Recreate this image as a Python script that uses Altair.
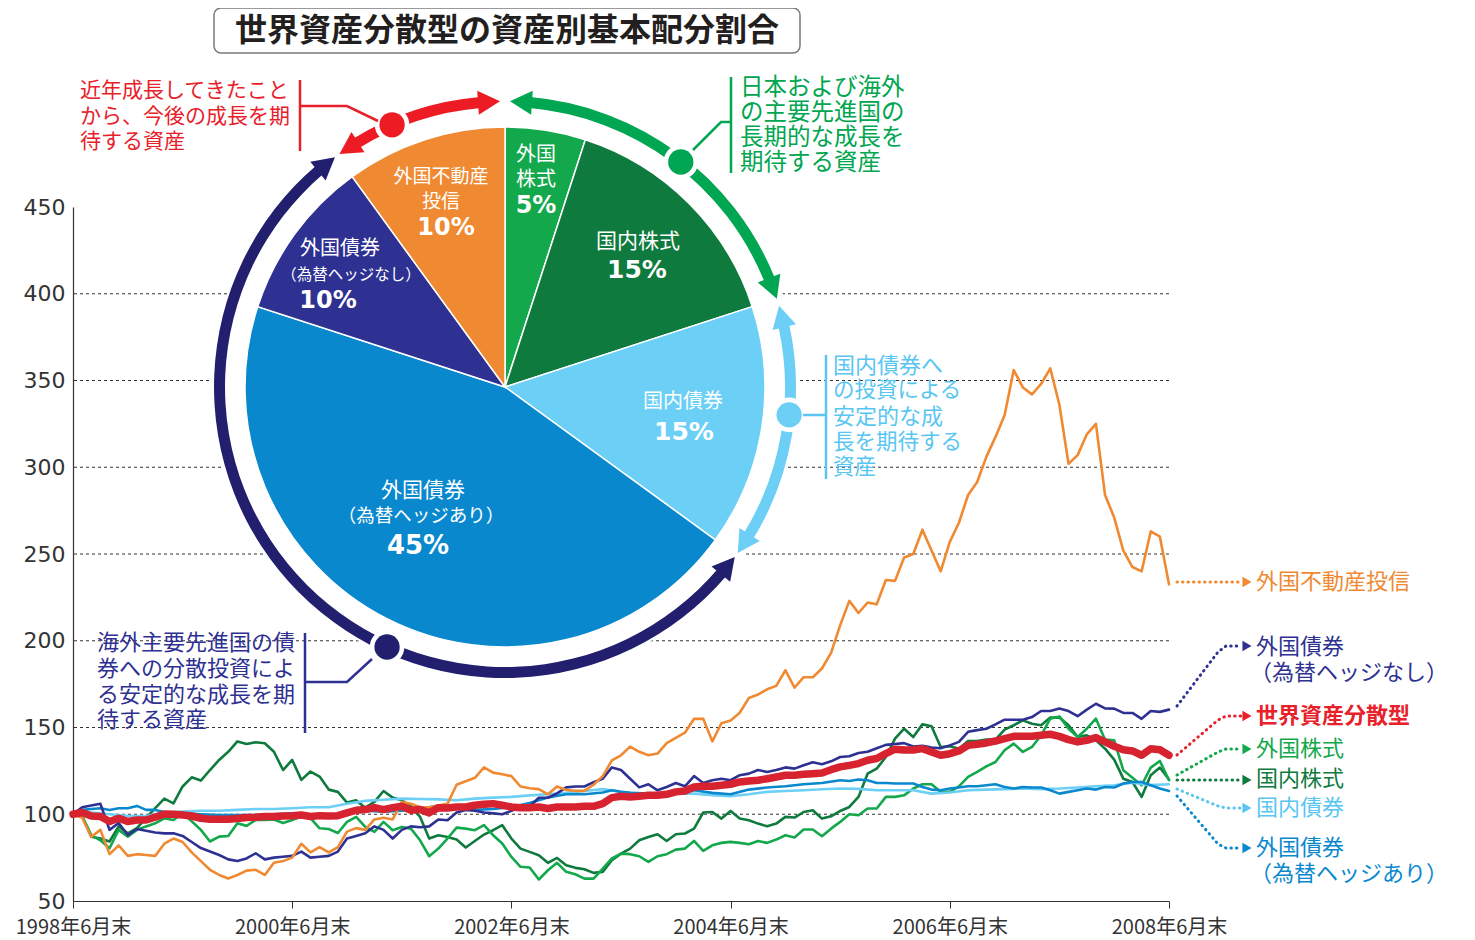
import math
import altair as alt
import pandas as pd

# ---------------- data ----------------
tick_months = [0, 24, 48, 72, 96, 120]
tick_labels = ["1998年6月末", "2000年6月末", "2002年6月末", "2004年6月末", "2006年6月末", "2008年6月末"]
y_ticks = [50, 100, 150, 200, 250, 300, 350, 400, 450]
grid_values = [100, 150, 200, 250, 300, 350, 400]

series_names = ["外国株式", "国内株式", "国内債券", "外国債券（為替ヘッジあり）",
                "外国債券（為替ヘッジなし）", "外国不動産投信", "世界資産分散型"]
series_colors = ["#12A84B", "#0F7A3D", "#6CCFF6", "#0A88CE", "#2E3192", "#F08A32", "#D6232F"]

months_full = list(range(121))

v_reit = [100, 98, 87, 91, 77, 82, 76, 77, 76.5, 76,
          83, 86, 84, 78, 73, 68, 65, 63, 65, 67.5,
          68, 65, 72, 73, 75, 83, 78, 81, 78, 81,
          90, 92, 91, 97, 98, 97, 107, 106, 104, 104,
          105, 106, 117, 119, 121, 127, 124, 123, 122, 116,
          115, 114.5, 111.5, 116, 114, 113.5, 113.5, 117, 122, 131,
          134, 139, 136, 134, 135, 141, 144, 147, 155, 155,
          142, 152.5, 154, 158.5, 167, 169, 172, 174, 183, 173,
          179, 179, 184, 193, 209, 223, 216, 222, 221, 235,
          234.5, 248, 250, 264, 252, 240, 257, 268, 284, 291.5,
          306, 317.5, 330, 356, 346, 342, 348, 357, 336, 302,
          307, 319, 325, 284, 271, 252, 242.5, 240, 263, 260,
          232.5]

v_fbond_unhedged = [100, 104, 105, 106, 91, 95, 88, 91.5, 90.5, 89.5,
                    89, 89, 87.5, 84, 80.5, 78.5, 76.5, 74, 73, 74.5,
                    77.5, 74, 75, 75.5, 76, 78.5, 75, 75.5, 76, 78.5,
                    86, 87.5, 89, 93, 91, 86, 91, 93, 92.5, 93,
                    97, 96.5, 101, 102.5, 102, 101, 100.5, 100, 102, 104,
                    104.5, 109.5, 109.5, 112, 115.5, 116, 116, 118.5, 120.5, 127,
                    125.5, 120.5, 115.5, 117.3, 113.8, 115.7, 118, 116.1, 122, 118,
                    119.6, 120.5, 119.6, 122.5, 123.4, 125.5, 124.4, 125.5, 127, 126.3,
                    128.2, 130, 128.8, 130.5, 133, 133.4, 135.3, 136, 138, 140,
                    140.5, 141, 139, 139.5, 138.4, 138, 139.7, 141.7, 147.5, 148.5,
                    149.3, 151.8, 154.5, 154.5, 154.5, 156, 159.5, 159.5, 161, 159.5,
                    156.5, 160.3, 163.7, 161, 160.9, 158.4, 158.4, 155, 159.5, 159,
                    160.3]

v_world = [100, 101, 99, 98.7, 95.8, 97.7, 95.8, 96.7, 96.7, 98.3,
           100.2, 100, 99.6, 99, 97.7, 97.1, 97.1, 97.1, 97.5, 98.1,
           98.3, 98.7, 98.7, 99, 99.2, 99.6, 98.7, 99.2, 99, 99.2,
           100.8, 102.3, 102.7, 103.8, 102.7, 103.8, 104.6, 102.3, 102.7, 100.8,
           103.8, 103.6, 104.2, 104.2, 105.2, 105.8, 106.1, 105.2, 104.2, 103.8,
           103.8, 104.2, 103.3, 104.2, 104.2, 104.2, 104.6, 104.6, 106.1, 109.6,
           110.4, 110, 110.4, 110.9, 110.9, 111.5, 112.9, 113.4, 115.7, 116.1,
           116.1, 116.7, 117.3, 118.6, 119.2, 119.6, 120.5, 121.5, 122.5, 122.5,
           123, 123.4, 123.8, 125.7, 127.3, 128.2, 129.2, 131.1, 132.1, 135,
           137.5, 137, 137, 137.8, 135.9, 134, 134.9, 136.5, 139.7, 140.3,
           141.1, 142.2, 143.6, 144.9, 144.9, 144.9, 145.5, 146.1, 144.9, 143,
           141.7, 142.6, 144.2, 141.7, 139.2, 137.2, 136.5, 134, 137.8, 137.2,
           134]

v_jstock = [100, 99, 87, 86, 84.3, 93, 89, 92, 97.7, 103.5,
            109, 106.3, 116, 121.3, 119.4, 125.5, 131.3, 136, 142, 140.5,
            141.5, 140.9, 136, 125.5, 131.3, 119.8, 124.6, 121.7, 114.2, 112.9,
            106.7, 108, 103.8, 107.1, 113.4, 109.6, 108, 104.6, 98.5, 86,
            87.9, 86.9, 85.4, 80.8, 84.6, 88.3, 90.8, 93.7, 86, 80.2,
            78.3, 76.4, 72, 74.8, 70.6, 69.1, 68.3, 66.2, 66.8, 73.5,
            77.3, 80.2, 85, 86.9, 88.5, 84.6, 88.5, 88.9, 91.7, 101,
            101.3, 97.5, 101.9, 97.5, 96.5, 94.6, 93.1, 94.6, 98.5, 98.1,
            101.3, 102.3, 97.5, 98.8, 101.9, 104.2, 110, 123.4, 126.3, 133,
            143.6, 149.3, 144.5, 151.8, 150.7, 138.8, 139.2, 137.8, 142.2, 142.2,
            143, 143, 148.8, 151.3, 154.1, 152.2, 151.3, 155.7, 155.7, 151.3,
            144.5, 145.5, 142.6, 137.8, 131.5, 120.5, 118.6, 110, 122.5, 126.9,
            120]

v_fstock = [100, 99, 88, 85, 80.4, 91, 87.1, 91, 93, 94.8,
            97.7, 96.7, 100.6, 96, 91, 84.3, 87.1, 87.5, 94.8, 93.3,
            96.7, 96.7, 97, 95, 96.7, 98.7, 97.7, 91.9, 91.5, 89.2,
            95.6, 98.5, 92.7, 89.8, 95.6, 90.8, 92.7, 91.7, 85, 75.8,
            80.2, 86, 92.3, 91.7, 90.8, 93.7, 87.9, 83.1, 75.4, 69.7,
            69.3, 62.4, 67.7, 72, 66.8, 65.4, 62.9, 62.9, 68.7, 74.5,
            77.3, 77, 75.8, 72.5, 75.8, 77, 79.6, 80.2, 84.6, 78.9,
            82.1, 83.5, 84.1, 83.5, 82.7, 84.6, 83.5, 85.4, 87.9, 86.6,
            91.2, 91.2, 87.3, 91.7, 95.6, 100, 99.4, 103.3, 103.3, 110,
            110, 110.9, 114.8, 117.3, 117.3, 112.9, 112.9, 116.1, 121.5, 124.4,
            127.6, 130.1, 136.9, 140.7, 135.9, 138.8, 145.5, 155.1, 156.4, 149.3,
            144.5, 149.3, 155.1, 143, 142.6, 125.3, 121.1, 116.7, 126.9, 130.7,
            119.6]

m_jbond = list(range(0, 121, 2))
v_jbond = [100, 101, 100, 99, 99, 101, 101.5, 102, 102, 102.5,
           103, 103, 103.5, 104, 104, 106, 107.7, 108.4, 109, 108.8,
           108.6, 108.1, 109, 109.6, 110, 110.9, 111.5, 112.3, 113.4, 114.5,
           113, 111.9, 111.9, 112, 111.9, 111, 110.4, 111.5, 112.9, 113.4,
           113.8, 114.4, 114.8, 114.6, 113.8, 113.8, 113.8, 111.9, 112.5, 113.8,
           114.2, 114.5, 114.8, 114.5, 114.8, 115.4, 116.1, 116.7, 118.2, 116.8,
           117.3]

m_fbond_hedged = [0, 1, 2, 3, 4, 5, 6, 7, 8, 9, 10, 12, 14, 16, 18, 20, 22, 24, 26, 28,
                  30, 32, 34, 36, 38, 40, 42, 44, 46, 48, 50, 52, 54, 56, 58, 59, 60, 61, 63, 65,
                  68, 70, 72, 74, 76, 78, 80, 82, 84, 85, 86, 87, 88, 89, 90, 91, 92, 93, 94, 95,
                  96, 97, 98, 99, 100, 101, 102, 103, 104, 105, 106, 107, 108, 109, 110, 111, 112,
                  113, 114, 115, 116, 117, 118, 119, 120]
v_fbond_hedged = [100, 102.5, 103, 103.5, 102.5, 103.5, 103.5, 104.8, 102.5, 102.5, 101.3, 100.5,
                  100, 99.5, 99.5, 99.5, 100, 100.5, 100, 99,
                  100.5, 102, 101.5, 102, 103, 105, 103.5, 102.5, 103, 104.2, 106.5, 109.6, 111.5,
                  111.5, 112.5, 113.8, 112.9, 112.3, 111.9, 111.9,
                  113.8, 112.3, 111.5, 114.2, 115.4, 116.1, 117.3, 118, 119.6, 119.2, 120, 119.6,
                  118, 118, 117.7, 117.7, 117.7, 115.7, 114.2, 113.8,
                  114.8, 115.4, 116.1, 116.1, 116.7, 117.3, 115.7, 114.8, 115.7, 115.4, 115.4,
                  113.8, 111.9, 112.9, 113.8, 114.8, 114.2,
                  115.7, 115.4, 117.7, 118.6, 118.6, 116.7, 114.8, 113.4]

# draw order (bottom -> top)
series_data = [
    ("国内株式", months_full, v_jstock),
    ("外国株式", months_full, v_fstock),
    ("国内債券", m_jbond, v_jbond),
    ("外国債券（為替ヘッジあり）", m_fbond_hedged, v_fbond_hedged),
    ("外国債券（為替ヘッジなし）", months_full, v_fbond_unhedged),
    ("外国不動産投信", months_full, v_reit),
    ("世界資産分散型", months_full, v_world),
]

pie_names = ["外国株式", "国内株式", "国内債券", "外国債券（為替ヘッジあり）",
             "外国債券（為替ヘッジなし）", "外国不動産投信"]
pie_pct = [5, 15, 15, 45, 10, 10]

# ---------------- layout ----------------
OX, OY = 73, 207            # page position of plot origin
W, H = 1096, 694
CX, CY = 505 - OX, 387 - OY  # pie centre in plot coords
FONT = "Noto Sans CJK JP"

def P(x, y):
    return x - OX, y - OY

xscale = alt.Scale(domain=[0, 120], nice=False, zero=False)
yscale = alt.Scale(domain=[50, 450], nice=False, zero=False)
cscale = alt.Scale(domain=series_names, range=series_colors)

label_expr = "[" + ",".join("'%s'" % t for t in tick_labels) + "][round(datum.value/24)]"
xaxis = alt.Axis(values=tick_months, labelExpr=label_expr, title=None, grid=False,
                 tickSize=7, tickColor="#333", domainColor="#333", domainWidth=1.2,
                 labelFont=FONT, labelFontSize=20, labelColor="#333", labelPadding=9,
                 labelFlush=False, labelOverlap=False)
yaxis = alt.Axis(values=y_ticks, title=None, grid=False, ticks=False, domainColor="#333",
                 domainWidth=1.2, labelFont="DejaVu Sans", labelFontSize=22,
                 labelColor="#333", labelPadding=8)

layers = []

# grid lines
layers.append(
    alt.Chart(pd.DataFrame({"g": grid_values})).mark_rule(
        color="#333", strokeDash=[3, 3], strokeWidth=1
    ).encode(y=alt.Y("g:Q", scale=yscale, axis=yaxis))
)

# data lines
for name, ms, vs in series_data:
    df = pd.DataFrame({"m": ms, "v": vs, "s": name})
    width = 7.5 if name == "世界資産分散型" else 2.6
    layers.append(
        alt.Chart(df).mark_line(strokeWidth=width, strokeJoin="round", strokeCap="round").encode(
            x=alt.X("m:Q", scale=xscale, axis=xaxis),
            y=alt.Y("v:Q", scale=yscale, axis=yaxis),
            color=alt.Color("s:N", scale=cscale, legend=None),
        )
    )

# white disc behind pie and ring
layers.append(
    alt.Chart(pd.DataFrame({"t0": [0.0], "t1": [2 * math.pi]})).mark_arc(
        x=CX, y=CY, radius=293, fill="white"
    ).encode(theta=alt.Theta("t0:Q", scale=None), theta2=alt.Theta2("t1:Q"))
)

# pie
pie_df = pd.DataFrame({"name": pie_names, "pct": pie_pct, "idx": list(range(len(pie_names)))})
layers.append(
    alt.Chart(pie_df).mark_arc(x=CX, y=CY, radius=260, stroke="white", strokeWidth=1.5).encode(
        theta=alt.Theta("pct:Q", stack=True, scale=alt.Scale(domain=[0, 100], range=[0, 2 * math.pi])),
        order=alt.Order("idx:Q"),
        color=alt.Color("name:N", scale=cscale, legend=None),
    )
)

# ring arcs with arrowheads
R_OUT, R_IN = 291, 280
R_MID = (R_OUT + R_IN) / 2
ring = [("#ED1C24", 324.6, 359.0), ("#00A651", 1.0, 72.0),
        ("#6DCFF6", 73.5, 125.5), ("#221F6E", 126.5, 323.5)]
arc_rows, arrow_rows = [], []
for col, a0, a1 in ring:
    arc_rows.append({"t0": math.radians(a0 + 4.0), "t1": math.radians(a1 - 4.0), "col": col})
    for a, rot in ((a0 + 2.85, a0 + 2.85 - 90), (a1 - 2.85, a1 - 2.85 + 90)):
        arrow_rows.append({"px": CX + R_MID * math.sin(math.radians(a)),
                           "py": CY - R_MID * math.cos(math.radians(a)),
                           "rot": rot % 360, "col": col})
layers.append(
    alt.Chart(pd.DataFrame(arc_rows)).mark_arc(x=CX, y=CY, radius=R_OUT, radius2=R_IN).encode(
        theta=alt.Theta("t0:Q", scale=None), theta2=alt.Theta2("t1:Q"),
        color=alt.Color("col:N", scale=None),
    )
)
layers.append(
    alt.Chart(pd.DataFrame(arrow_rows)).mark_point(
        shape="M0,-1L0.85,0.55L-0.85,0.55Z", filled=True, size=806, opacity=1, strokeWidth=0
    ).encode(
        x=alt.X("px:Q", scale=None, axis=None), y=alt.Y("py:Q", scale=None, axis=None),
        angle=alt.Angle("rot:Q", scale=None), color=alt.Color("col:N", scale=None),
    )
)

# ring dots
dots = [("#ED1C24", 336.7), ("#00A651", 38.0), ("#6DCFF6", 95.6), ("#221F6E", 204.4)]
dot_df = pd.DataFrame({
    "px": [CX + R_MID * math.sin(math.radians(a)) for _, a in dots],
    "py": [CY - R_MID * math.cos(math.radians(a)) for _, a in dots],
    "col": [c for c, _ in dots],
})
layers.append(
    alt.Chart(dot_df).mark_point(shape="circle", filled=True, size=1200, opacity=1, color="white").encode(
        x=alt.X("px:Q", scale=None, axis=None), y=alt.Y("py:Q", scale=None, axis=None))
)
layers.append(
    alt.Chart(dot_df).mark_point(shape="circle", filled=True, size=640, opacity=1).encode(
        x=alt.X("px:Q", scale=None, axis=None), y=alt.Y("py:Q", scale=None, axis=None),
        color=alt.Color("col:N", scale=None))
)

# annotation connectors (solid)
def path_df(paths):
    rows = []
    for g, (col, pts) in enumerate(paths):
        for i, (x, y) in enumerate(pts):
            qx, qy = P(x, y)
            rows.append({"g": g, "i": i, "px": qx, "py": qy, "col": col})
    return pd.DataFrame(rows)

solid_paths = [
    ("#E8202A", [(300, 80), (300, 151)]),
    ("#E8202A", [(300, 106), (347, 106), (378, 121)]),
    ("#00A651", [(731, 77), (731, 173)]),
    ("#00A651", [(731, 122), (721, 122), (693, 150)]),
    ("#59C6F2", [(826, 355), (826, 479)]),
    ("#59C6F2", [(803, 415), (826, 415)]),
    ("#2E3192", [(305, 633), (305, 733)]),
    ("#2E3192", [(305, 682), (347, 682), (372, 659)]),
]
layers.append(
    alt.Chart(path_df(solid_paths)).mark_line(strokeWidth=2.5).encode(
        x=alt.X("px:Q", scale=None, axis=None), y=alt.Y("py:Q", scale=None, axis=None),
        detail="g:N", order=alt.Order("i:Q"), color=alt.Color("col:N", scale=None))
)

# right-hand dotted leaders
dotted_paths = [
    ("#F08A32", [(1177, 582), (1241, 582)]),
    ("#2E3192", [(1177, 706), (1218, 652), (1226, 646), (1241, 646)]),
    ("#E8202A", [(1177, 755), (1218, 720), (1226, 716), (1241, 716)]),
    ("#12A84B", [(1177, 775), (1218, 752), (1226, 749), (1241, 749)]),
    ("#0F7A3D", [(1177, 780), (1241, 780)]),
    ("#59C6F2", [(1177, 789), (1218, 806), (1226, 808), (1241, 808)]),
    ("#0A88CE", [(1177, 796), (1218, 844), (1226, 848), (1241, 848)]),
]
layers.append(
    alt.Chart(path_df(dotted_paths)).mark_line(strokeWidth=3, strokeDash=[0.5, 5], strokeCap="round").encode(
        x=alt.X("px:Q", scale=None, axis=None), y=alt.Y("py:Q", scale=None, axis=None),
        detail="g:N", order=alt.Order("i:Q"), color=alt.Color("col:N", scale=None))
)
head_df = pd.DataFrame({
    "px": [P(1247, pts[-1][1])[0] for _, pts in dotted_paths],
    "py": [P(1247, pts[-1][1])[1] for _, pts in dotted_paths],
    "col": [c for c, _ in dotted_paths],
})
layers.append(
    alt.Chart(head_df).mark_point(shape="triangle-right", filled=True, size=110, opacity=1).encode(
        x=alt.X("px:Q", scale=None, axis=None), y=alt.Y("py:Q", scale=None, axis=None),
        color=alt.Color("col:N", scale=None))
)

# title box
tx0, ty0 = P(214, 8)
tx1, ty1 = P(800, 53)
layers.append(
    alt.Chart(pd.DataFrame({"a": [0]})).mark_rect(
        fill="white", stroke="#7a7a7a", strokeWidth=1.5, cornerRadius=7
    ).encode(x=alt.value(tx0), x2=alt.value(tx1), y=alt.value(ty0), y2=alt.value(ty1))
)

# texts
WHITE = "white"
PCT = "DejaVu Sans"
texts = [
    ("世界資産分散型の資産別基本配分割合", 507, 31, 32, "#231F20", "bold", "center", FONT),
    # pie labels
    ("外国", 536, 155, 20, WHITE, "normal", "center", FONT),
    ("株式", 536, 180, 20, WHITE, "normal", "center", FONT),
    ("5%", 536, 206, 24, WHITE, "bold", "center", PCT),
    ("外国不動産", 441, 177, 19, WHITE, "normal", "center", FONT),
    ("投信", 441, 202, 19, WHITE, "normal", "center", FONT),
    ("10%", 446, 228, 24, WHITE, "bold", "center", PCT),
    ("国内株式", 638, 242, 21, WHITE, "normal", "center", FONT),
    ("15%", 637, 270, 25, WHITE, "bold", "center", PCT),
    ("外国債券", 340, 249, 20, WHITE, "normal", "center", FONT),
    ("（為替ヘッジなし）", 351, 275, 15.5, WHITE, "normal", "center", FONT),
    ("10%", 328, 301, 24, WHITE, "bold", "center", PCT),
    ("国内債券", 683, 402, 20, WHITE, "normal", "center", FONT),
    ("15%", 684, 432, 25, WHITE, "bold", "center", PCT),
    ("外国債券", 423, 491, 21, WHITE, "normal", "center", FONT),
    ("（為替ヘッジあり）", 421, 516, 18.5, WHITE, "normal", "center", FONT),
    ("45%", 418, 546, 26, WHITE, "bold", "center", PCT),
    # annotations
    ("近年成長してきたこと", 80, 91, 21, "#E8202A", "normal", "left", FONT),
    ("から、今後の成長を期", 80, 117, 21, "#E8202A", "normal", "left", FONT),
    ("待する資産", 80, 142, 21, "#E8202A", "normal", "left", FONT),
    ("日本および海外", 740, 88, 23.5, "#00A650", "normal", "left", FONT),
    ("の主要先進国の", 740, 113, 23.5, "#00A650", "normal", "left", FONT),
    ("長期的な成長を", 740, 138, 23.5, "#00A650", "normal", "left", FONT),
    ("期待する資産", 740, 163, 23.5, "#00A650", "normal", "left", FONT),
    ("国内債券へ", 833, 366, 22, "#59C6F2", "normal", "left", FONT),
    ("の投資による", 833, 391, 21.5, "#59C6F2", "normal", "left", FONT),
    ("安定的な成", 833, 417, 22, "#59C6F2", "normal", "left", FONT),
    ("長を期待する", 833, 443, 21.5, "#59C6F2", "normal", "left", FONT),
    ("資産", 833, 468, 21.5, "#59C6F2", "normal", "left", FONT),
    ("海外主要先進国の債", 97, 643, 22, "#2E3192", "normal", "left", FONT),
    ("券への分散投資によ", 97, 669, 22, "#2E3192", "normal", "left", FONT),
    ("る安定的な成長を期", 97, 695, 22, "#2E3192", "normal", "left", FONT),
    ("待する資産", 97, 720, 22, "#2E3192", "normal", "left", FONT),
    # right labels
    ("外国不動産投信", 1256, 582, 22, "#F08A32", "normal", "left", FONT),
    ("外国債券", 1256, 647, 22, "#2E3192", "normal", "left", FONT),
    ("（為替ヘッジなし）", 1250, 673, 22, "#2E3192", "normal", "left", FONT),
    ("世界資産分散型", 1256, 716, 22, "#E8202A", "bold", "left", FONT),
    ("外国株式", 1256, 749, 22, "#12A84B", "normal", "left", FONT),
    ("国内株式", 1256, 779, 22, "#0F7A3D", "normal", "left", FONT),
    ("国内債券", 1256, 808, 22, "#59C6F2", "normal", "left", FONT),
    ("外国債券", 1256, 848, 22, "#0A88CE", "normal", "left", FONT),
    ("（為替ヘッジあり）", 1250, 874, 22, "#0A88CE", "normal", "left", FONT),
]
for t, x, y, size, col, weight, align, font in texts:
    qx, qy = P(x, y)
    layers.append(
        alt.Chart(pd.DataFrame({"t": [t]})).mark_text(
            x=qx, y=qy, fontSize=size, color=col, fontWeight=weight, align=align,
            baseline="middle", font=font
        ).encode(text="t:N")
    )

chart = alt.layer(*layers).properties(
    width=W, height=H,
    padding={"left": 65, "top": 199, "right": 279, "bottom": 40},
    autosize=alt.AutoSizeParams(type="none"),
    background="white",
).configure_view(stroke=None)

chart.save("out.html", embed_options={"renderer": "svg", "actions": False})
